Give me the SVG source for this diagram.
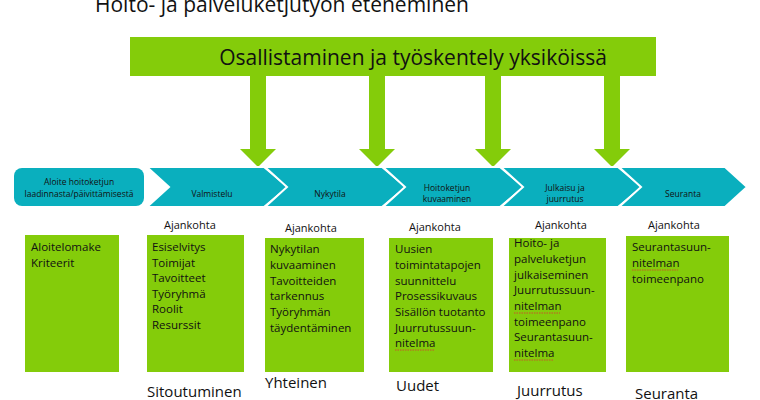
<svg xmlns="http://www.w3.org/2000/svg" width="760" height="400" viewBox="0 0 760 400">
<style>
text{font-family:"Open Sans","Liberation Sans",sans-serif;fill:#111}
.g{fill:#84cc0a}
.t{fill:#0aafbe;stroke:#fff;stroke-width:2}
.cl{font-size:8.5px;text-anchor:middle}
.aj{font-size:11px}
.bx{font-size:11.5px}
.bt{font-size:15px}
.sq{fill:none;stroke:#d33;stroke-width:0.8;stroke-dasharray:1.5 1}
</style>
<text x="95" y="12" style="font-size:21px">Hoito- ja palveluketjutyön eteneminen</text>
<g id="banner"><rect class="g" x="130" y="37" width="526" height="39"/><text x="413" y="65" text-anchor="middle" style="font-size:21px">Osallistaminen ja työskentely yksiköissä</text></g>
<g id="connectors">
<path class="g" d="M250 75h16v74h10l-18 18l-18-18h10z"/>
<path class="g" d="M369 75h16v74h10l-18 18l-18-18h10z"/>
<path class="g" d="M485 75h16v74h10l-18 18l-18-18h10z"/>
<path class="g" d="M604 75h16v74h10l-18 18l-18-18h10z"/>
</g>
<g id="s1"><rect x="14" y="168" width="130" height="38" rx="8" fill="#0aafbe"/><text class="cl" x="79" y="185">Aloite hoitoketjun</text><text class="cl" x="79" y="197">laadinnasta/päivittämisestä</text></g>
<g id="s2"><path class="t" d="M147 167h117l24 20l-24 20h-117l22-20z"/><text class="cl" x="212" y="197">Valmistelu</text></g>
<g id="s3"><path class="t" d="M265 167h117l24 20l-24 20h-117l22-20z"/><text class="cl" x="330" y="197">Nykytila</text></g>
<g id="s4"><path class="t" d="M383 167h117l24 20l-24 20h-117l22-20z"/><text class="cl" x="447" y="191">Hoitoketjun</text><text class="cl" x="447" y="202">kuvaaminen</text></g>
<g id="s5"><path class="t" d="M501 167h117l24 20l-24 20h-117l22-20z"/><text class="cl" x="565" y="191">Julkaisu ja</text><text class="cl" x="565" y="202">juurrutus</text></g>
<g id="s6"><path class="t" d="M619 167h106l22 20l-22 20h-106l22-20z"/><text class="cl" x="683" y="197">Seuranta</text></g>
<g id="aj"><text class="aj" x="164" y="229">Ajankohta</text><text class="aj" x="285" y="232">Ajankohta</text><text class="aj" x="409" y="231">Ajankohta</text><text class="aj" x="535" y="229">Ajankohta</text><text class="aj" x="648" y="229">Ajankohta</text></g>
<g id="b1"><rect class="g" x="25" y="235" width="94" height="137"/><text class="bx" x="31" y="251">Aloitelomake</text><text class="bx" x="31" y="267">Kriteerit</text></g>
<g id="b2"><rect class="g" x="147" y="235" width="97" height="137"/><text class="bx"><tspan x="152" y="251">Esiselvitys</tspan><tspan x="152" y="267">Toimijat</tspan><tspan x="152" y="282">Tavoitteet</tspan><tspan x="152" y="298">Työryhmä</tspan><tspan x="152" y="313">Roolit</tspan><tspan x="152" y="329">Resurssit</tspan></text></g>
<g id="b3"><rect class="g" x="265" y="238" width="99" height="134"/><text class="bx"><tspan x="270" y="253">Nykytilan</tspan><tspan x="270" y="269">kuvaaminen</tspan><tspan x="270" y="285">Tavoitteiden</tspan><tspan x="270" y="300">tarkennus</tspan><tspan x="270" y="316">Työryhmän</tspan><tspan x="270" y="332">täydentäminen</tspan></text></g>
<g id="b4"><rect class="g" x="389" y="238" width="104" height="134"/><text class="bx"><tspan x="395" y="253">Uusien</tspan><tspan x="395" y="269">toimintatapojen</tspan><tspan x="395" y="285">suunnittelu</tspan><tspan x="395" y="300">Prosessikuvaus</tspan><tspan x="395" y="316">Sisällön tuotanto</tspan><tspan x="395" y="332">Juurrutussuun-</tspan><tspan x="395" y="347">nitelma</tspan></text><path class="sq" d="M395 350h40"/></g>
<g id="b5"><rect class="g" x="509" y="238" width="97" height="134"/><text class="bx"><tspan x="514" y="247">Hoito- ja</tspan><tspan x="514" y="263">palveluketjun</tspan><tspan x="514" y="279">julkaiseminen</tspan><tspan x="514" y="294">Juurrutussuun-</tspan><tspan x="514" y="310">nitelman</tspan><tspan x="514" y="326">toimeenpano</tspan><tspan x="514" y="341">Seurantasuun-</tspan><tspan x="514" y="357">nitelma</tspan></text><path class="sq" d="M514 313h46M514 360h40"/></g>
<g id="b6"><rect class="g" x="626" y="236" width="103" height="136"/><text class="bx"><tspan x="632" y="251">Seurantasuun-</tspan><tspan x="632" y="267">nitelman</tspan><tspan x="632" y="283">toimeenpano</tspan></text><path class="sq" d="M632 270h46"/></g>
<g id="bottom"><text class="bt" x="147" y="397">Sitoutuminen</text><text class="bt" x="265" y="388">Yhteinen</text><text class="bt" x="396" y="391">Uudet</text><text class="bt" x="517" y="396">Juurrutus</text><text class="bt" x="635" y="399">Seuranta</text></g>
</svg>
